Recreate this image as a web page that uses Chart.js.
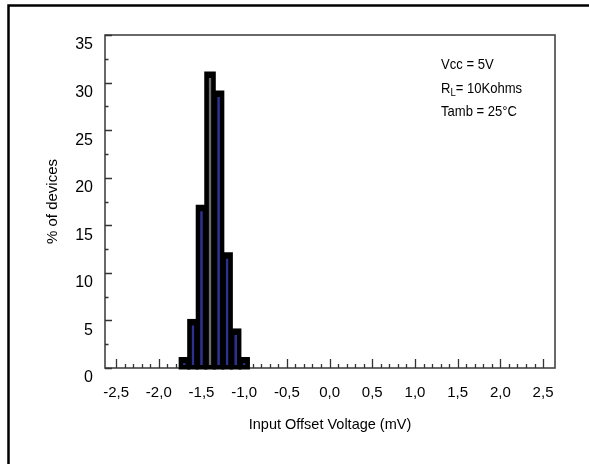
<!DOCTYPE html>
<html>
<head>
<meta charset="utf-8">
<script src="https://cdn.jsdelivr.net/npm/chart.js@4.4.1/dist/chart.umd.min.js"></script>
<style>
  html, body { margin: 0; padding: 0; background: #fff; }
  #wrap { position: relative; width: 589px; height: 464px; }
</style>
</head>
<body>
<div id="wrap"><canvas id="c" width="589" height="464"></canvas></div>
<script>
// Histogram classes (centre of each 0.1 mV bin) and share of devices in %
const binCenters = [-1.7, -1.6, -1.5, -1.4, -1.3, -1.2, -1.1, -1.0];
const percentDevices = [1, 5, 17, 31, 29, 12, 4, 1];

// Axis ticks
const xTickValues = [-2.5, -2.0, -1.5, -1.0, -0.5, 0.0, 0.5, 1.0, 1.5, 2.0, 2.5];
const xTickLabels = ['-2,5', '-2,0', '-1,5', '-1,0', '-0,5', '0,0', '0,5', '1,0', '1,5', '2,0', '2,5'];
const yTickValues = [0, 5, 10, 15, 20, 25, 30, 35];
const yTickLabels = ['0', '5', '10', '15', '20', '25', '30', '35'];

// Test conditions printed in the upper right corner
const conditionVcc = 'Vcc = 5V';
const conditionLoad = ['R', 'L', '= 10Kohms'];
const conditionTemp = 'Tamb = 25°C';

const FONT = '"Liberation Sans", Arial, Helvetica, sans-serif';

const points = binCenters.map((x, i) => ({ x: x, y: percentDevices[i] }));
const peak = Math.max(...percentDevices);

// Outer frame of the figure, the plot box, inward ticks and the condition notes
const framePlugin = {
  id: 'frame',
  beforeDraw(chart) {
    const ctx = chart.ctx;
    ctx.save();
    ctx.fillStyle = '#fff';
    ctx.fillRect(0, 0, chart.width, chart.height);
    ctx.strokeStyle = '#000';
    ctx.lineWidth = 2.5;
    ctx.beginPath();
    ctx.moveTo(8.5, chart.height + 2);
    ctx.lineTo(8.5, 5.5);
    ctx.lineTo(chart.width + 2, 5.5);
    ctx.stroke();
    ctx.restore();
  },
  beforeDatasetsDraw(chart) {
    const { ctx, chartArea: a, scales } = chart;
    ctx.save();
    ctx.strokeStyle = '#444';
    ctx.lineWidth = 1.6;
    ctx.strokeRect(a.left, a.top, a.right - a.left, a.bottom - a.top);

    // inward tick marks on the left and bottom axes
    ctx.strokeStyle = '#333';
    ctx.lineWidth = 1.3;
    ctx.beginPath();
    for (let i = 0; i <= 14; i++) {
      const v = i * 2.5;
      const py = Math.round(scales.y.getPixelForValue(v)) + 0.5;
      const len = (i % 2 === 0) ? 7 : 3.5;
      ctx.moveTo(a.left, py);
      ctx.lineTo(a.left + len, py);
    }
    for (let i = -25; i <= 25; i++) {
      const v = i / 10;
      const px = Math.round(scales.x.getPixelForValue(v)) + 0.5;
      const len = (i % 5 === 0) ? 9 : 4;
      ctx.moveTo(px, a.bottom);
      ctx.lineTo(px, a.bottom - len);
    }
    ctx.stroke();
    ctx.restore();
  },
  afterDraw(chart) {
    const ctx = chart.ctx;
    const sx = 0.87; // condensed lettering
    ctx.save();
    ctx.fillStyle = '#000';
    ctx.textBaseline = 'alphabetic';
    ctx.textAlign = 'left';
    ctx.translate(441, 0);
    ctx.scale(sx, 1);
    ctx.font = '15px ' + FONT;
    ctx.fillText(conditionVcc, 0, 69);
    // R with subscript L
    let x = 0;
    ctx.fillText(conditionLoad[0], x, 92.5);
    x += ctx.measureText(conditionLoad[0]).width;
    ctx.font = '11px ' + FONT;
    ctx.fillText(conditionLoad[1], x, 95.5);
    x += ctx.measureText(conditionLoad[1]).width;
    ctx.font = '15px ' + FONT;
    ctx.fillText(conditionLoad[2], x, 92.5);
    ctx.fillText(conditionTemp, 0, 116);
    ctx.restore();
  }
};

new Chart(document.getElementById('c'), {
  type: 'bar',
  data: {
    datasets: [
      {
        // thin coloured core inside every bar
        data: points,
        order: 0,
        grouped: false,
        barPercentage: 0.32,
        categoryPercentage: 1,
        backgroundColor: (c) => (c.raw && c.raw.y === peak) ? '#6e6e6e' : '#2f3192',
        borderColor: '#000',
        borderWidth: { top: 5, bottom: 3, left: 0, right: 0 },
        borderSkipped: false,
        inflateAmount: 0,
        clip: false
      },
      {
        // black histogram bars
        data: points,
        order: 1,
        grouped: false,
        barPercentage: 1,
        categoryPercentage: 1,
        backgroundColor: '#000',
        borderWidth: 0,
        inflateAmount: 1.5,
        clip: false
      }
    ]
  },
  options: {
    responsive: false,
    animation: false,
    events: [],
    layout: { padding: { left: 0, top: 35, right: 34, bottom: 0 } },
    plugins: { legend: { display: false }, tooltip: { enabled: false } },
    scales: {
      x: {
        type: 'linear',
        offset: false,
        min: -2.63,
        max: 2.64,
        grid: { display: false, drawTicks: false, offset: false },
        border: { display: false },
        afterBuildTicks: (s) => { s.ticks = xTickValues.map(v => ({ value: v })); },
        afterFit: (s) => { s.height = 96; },
        ticks: {
          autoSkip: false,
          maxRotation: 0,
          padding: 16,
          color: '#000',
          font: { family: FONT, size: 15 },
          callback: (v, i) => xTickLabels[i]
        },
        title: {
          display: true,
          text: 'Input Offset Voltage (mV)',
          color: '#000',
          font: { family: FONT, size: 14.5 },
          padding: { top: 0, bottom: 30 }
        }
      },
      y: {
        min: 0,
        max: 35,
        grid: { display: false, drawTicks: false },
        border: { display: false },
        afterBuildTicks: (s) => { s.ticks = yTickValues.map(v => ({ value: v })); },
        afterFit: (s) => { s.width = 105; },
        ticks: {
          autoSkip: false,
          padding: 12,
          labelOffset: 10,
          color: '#000',
          font: { family: FONT, size: 16 },
          callback: (v, i) => yTickLabels[i]
        },
        title: {
          display: true,
          text: '% of devices',
          color: '#000',
          font: { family: FONT, size: 15 },
          padding: { top: 44, bottom: 0 }
        }
      }
    }
  },
  plugins: [framePlugin]
});
</script>
</body>
</html>
